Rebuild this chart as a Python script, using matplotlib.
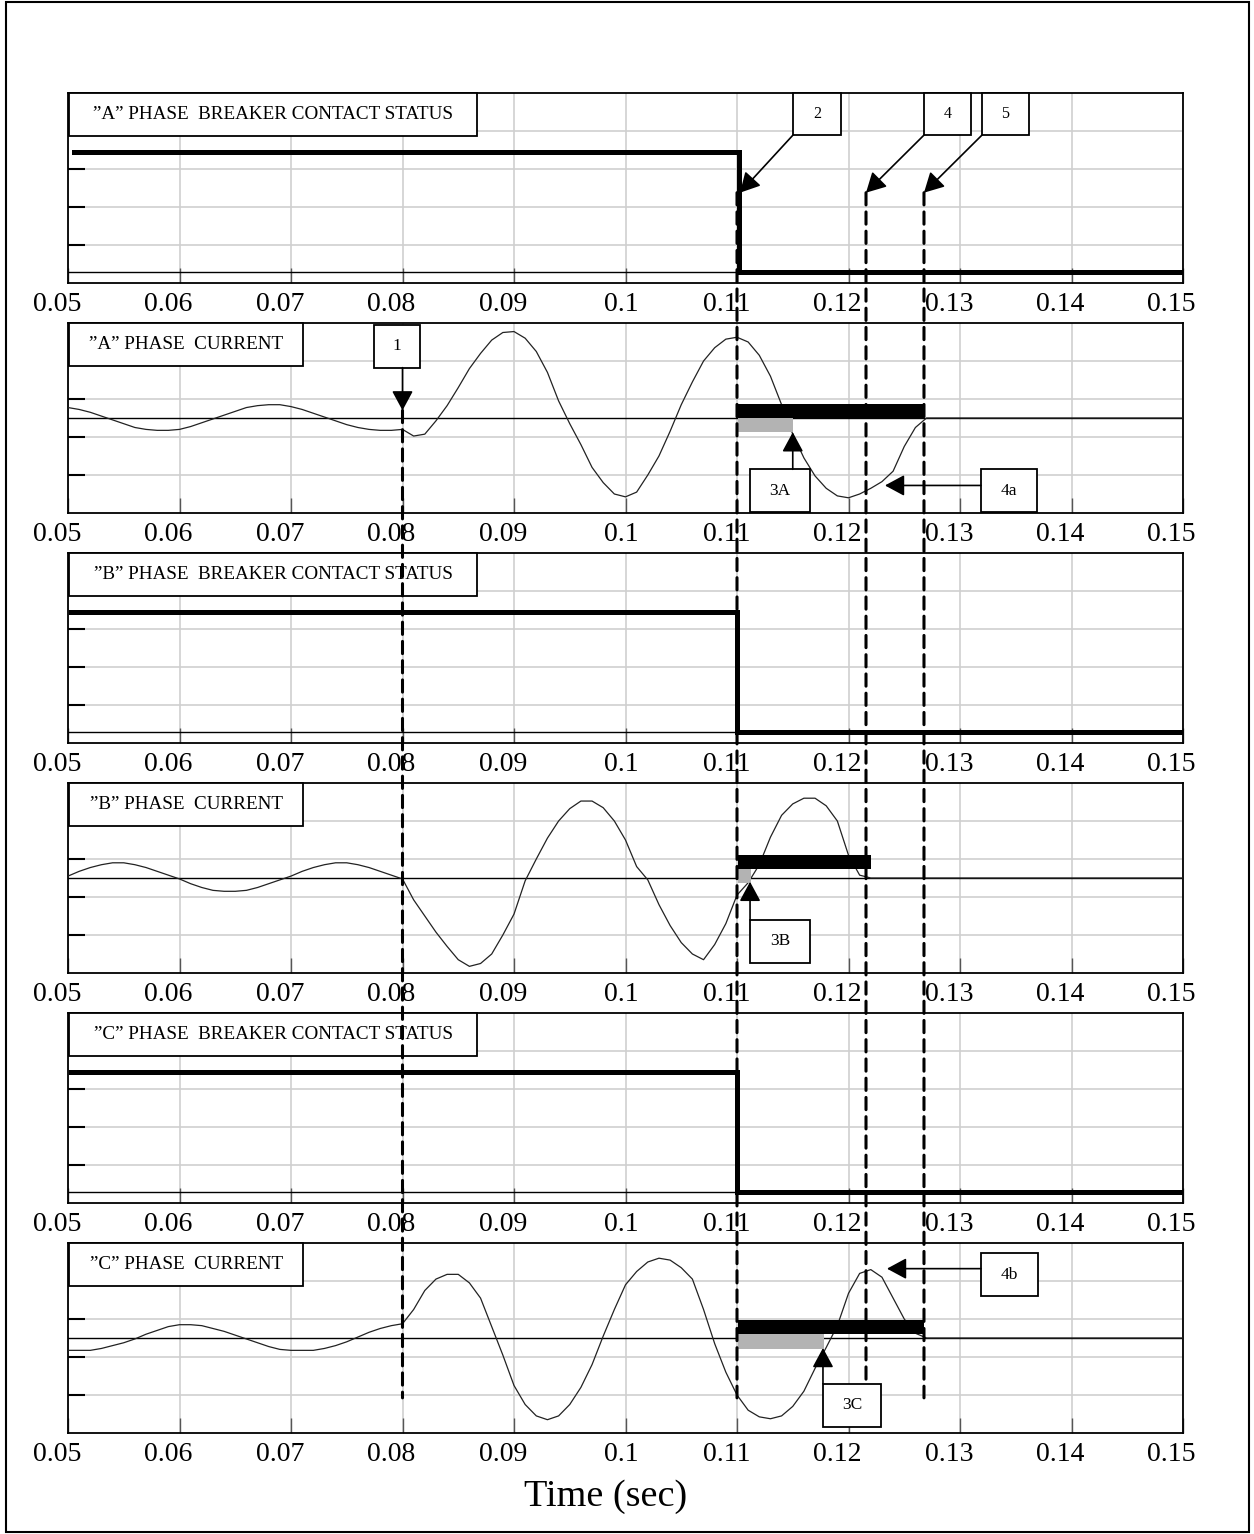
import numpy as np
import matplotlib.pyplot as plt
from matplotlib.patches import Rectangle, ConnectionPatch
from matplotlib.transforms import blended_transform_factory, ScaledTranslation

plt.rcParams['font.family'] = ['Liberation Serif', 'DejaVu Serif']

# recorder time base, 1 ms samples
t = np.round(np.arange(0.050, 0.1505, 0.001), 3)

# phase currents (per unit of panel half-height)
i_a = [0.11, 0.09, 0.06, 0.02, -0.02, -0.06, -0.10, -0.12, -0.13, -0.13,
       -0.12, -0.09, -0.05, -0.01, 0.03, 0.07, 0.11, 0.13, 0.14, 0.14,
       0.12, 0.09, 0.05, 0.01, -0.03, -0.07, -0.10, -0.12, -0.13, -0.13,
       -0.12, -0.19, -0.17, -0.03, 0.13, 0.32, 0.52, 0.68, 0.82, 0.90,
       0.91, 0.84, 0.70, 0.48, 0.18, -0.06, -0.28, -0.52, -0.68, -0.80,
       -0.83, -0.78, -0.60, -0.40, -0.14, 0.14, 0.38, 0.60, 0.74, 0.83,
       0.85, 0.80, 0.66, 0.44, 0.14, -0.17, -0.42, -0.61, -0.74, -0.82,
       -0.84, -0.80, -0.74, -0.67, -0.56, -0.30, -0.10, 0.0, 0.0, 0.0,
       0, 0, 0, 0, 0, 0, 0, 0, 0, 0,
       0, 0, 0, 0, 0, 0, 0, 0, 0, 0,
       0]
i_b = [0.02, 0.07, 0.11, 0.14, 0.16, 0.16, 0.14, 0.11, 0.07, 0.03,
       -0.01, -0.06, -0.10, -0.13, -0.14, -0.14, -0.13, -0.10, -0.06, -0.02,
       0.02, 0.07, 0.11, 0.14, 0.16, 0.16, 0.14, 0.11, 0.07, 0.03,
       -0.01, -0.23, -0.40, -0.57, -0.72, -0.86, -0.93, -0.90, -0.80, -0.60,
       -0.38, -0.03, 0.20, 0.42, 0.60, 0.73, 0.81, 0.81, 0.74, 0.60,
       0.40, 0.12, -0.02, -0.28, -0.50, -0.68, -0.80, -0.86, -0.70, -0.48,
       -0.18, -0.05, 0.14, 0.43, 0.66, 0.78, 0.84, 0.84, 0.76, 0.60,
       0.24, 0.03, 0.0, 0, 0, 0, 0, 0, 0, 0,
       0, 0, 0, 0, 0, 0, 0, 0, 0, 0,
       0, 0, 0, 0, 0, 0, 0, 0, 0, 0,
       0]
i_c = [-0.13, -0.13, -0.13, -0.11, -0.08, -0.05, -0.01, 0.04, 0.08, 0.12,
       0.14, 0.14, 0.13, 0.10, 0.07, 0.03, -0.01, -0.05, -0.09, -0.12,
       -0.13, -0.13, -0.13, -0.11, -0.08, -0.04, 0.01, 0.06, 0.10, 0.13,
       0.15, 0.30, 0.50, 0.62, 0.67, 0.67, 0.58, 0.42, 0.12, -0.18,
       -0.50, -0.70, -0.82, -0.86, -0.82, -0.70, -0.52, -0.28, 0.02, 0.30,
       0.56, 0.70, 0.80, 0.84, 0.82, 0.74, 0.62, 0.30, -0.06, -0.36,
       -0.60, -0.76, -0.83, -0.85, -0.82, -0.72, -0.56, -0.32, -0.10, 0.13,
       0.47, 0.68, 0.72, 0.64, 0.42, 0.20, 0.05, 0.0, 0, 0,
       0, 0, 0, 0, 0, 0, 0, 0, 0, 0,
       0, 0, 0, 0, 0, 0, 0, 0, 0, 0,
       0]

# breaker contact status (1 = closed, 0 = open)
status_t = {'A': [0.0505, 0.1102, 0.1500], 'B': [0.0503, 0.1100, 0.1497], 'C': [0.0503, 0.1100, 0.1497]}
status_v = [1, 0, 0]

# arcing intervals: black = contacts parted until current zero, grey = marked portion
arc_black = {'A': (0.1101, 0.1268), 'B': (0.1101, 0.1220), 'C': (0.1101, 0.1268)}
arc_grey = {'A': (0.1101, 0.1150), 'B': (0.1101, 0.1113), 'C': (0.1101, 0.1178)}
arc_black_y = {'A': (0.0, 0.15), 'B': (0.095, 0.24), 'C': (0.04, 0.19)}
arc_grey_y = {'A': (-0.15, 0.0), 'B': (-0.05, 0.095), 'C': (-0.12, 0.04)}

xticks = [0.05, 0.06, 0.07, 0.08, 0.09, 0.10, 0.11, 0.12, 0.13, 0.14, 0.15]
xticklabels = ['0.05', '0.06', '0.07', '0.08', '0.09', '0.1', '0.11', '0.12', '0.13', '0.14', '0.15']

titles = ['\u201dA\u201d PHASE  BREAKER CONTACT STATUS', '\u201dA\u201d PHASE  CURRENT',
          '\u201dB\u201d PHASE  BREAKER CONTACT STATUS', '\u201dB\u201d PHASE  CURRENT',
          '\u201dC\u201d PHASE  BREAKER CONTACT STATUS', '\u201dC\u201d PHASE  CURRENT']

W, H = 1254, 1534
fig = plt.figure(figsize=(W / 100, H / 100), dpi=100)
left, width, ph = 68 / W, (1183 - 68) / W, 190
axes = []
for k in range(6):
    top = 93 + 230 * k
    ax = fig.add_axes([left, 1 - (top + ph) / H, width, ph / H])
    axes.append(ax)

stat_lim = (-0.09, 1.49)
for k, ax in enumerate(axes):
    ax.set_xlim(0.05, 0.15)
    if k % 2 == 0:
        ax.set_ylim(*stat_lim)
        step = (stat_lim[1] - stat_lim[0]) / 5
        ax.set_yticks([stat_lim[0] + step * j for j in range(1, 5)])
    else:
        ax.set_ylim(-1, 1)
        ax.set_yticks([-0.6, -0.2, 0.2, 0.6])
    ax.set_xticks(xticks)
    ax.tick_params(axis='x', direction='in', length=11, width=1, color='#555555',
                   labelbottom=False, top=False)
    ax.tick_params(axis='y', direction='in', length=12, width=1.5, left=True,
                   right=False, labelleft=False)
    # tick labels sit slightly left of their ticks, as in the original printout
    lab_tr = blended_transform_factory(ax.transData, ax.transAxes) + \
        ScaledTranslation(13 / 100, -28 / 100, fig.dpi_scale_trans)
    for x, lab in zip(xticks, xticklabels):
        ax.text(x, 0, lab, transform=lab_tr, ha='right', va='baseline', fontsize=20,
                clip_on=False)
    ax.grid(True, color='#cfcfcf', lw=1.2)
    ax.set_axisbelow(True)
    for sp in ax.spines.values():
        sp.set_linewidth(1.3)
    ax.axhline(0, color='k', lw=1.0, zorder=2)

    # title box
    bw = (408 if k % 2 == 0 else 234) / 1115
    bh = 43 / ph
    ax.add_patch(Rectangle((0.001, 1 - bh), bw, bh, transform=ax.transAxes, fc='white',
                           ec='k', lw=1.3, zorder=5, clip_on=False))
    ax.text(0.001 + bw / 2, 1 - bh / 2, titles[k], transform=ax.transAxes, ha='center',
            va='center', fontsize=13.8, zorder=6)

phases = ['A', 'B', 'C']
cur = {'A': i_a, 'B': i_b, 'C': i_c}
for p, ph_name in enumerate(phases):
    ax_s = axes[2 * p]
    ax_s.plot(status_t[ph_name], status_v, drawstyle='steps-post', color='k', lw=3.6,
              solid_joinstyle='miter', zorder=3)
    ax_c = axes[2 * p + 1]
    ax_c.plot(t, cur[ph_name], color='#222222', lw=0.9, zorder=3)
    ax_c.fill_between(arc_black[ph_name], *arc_black_y[ph_name], color='k', lw=0, zorder=4)
    ax_c.fill_between(arc_grey[ph_name], *arc_grey_y[ph_name], color='#b3b3b3', lw=0, zorder=4)

# numbered callouts: (axis, label, box x0, x1, y0, y1, arrow start, arrow tip, font size)
callouts = [
    (0, '2', 0.11502, 0.11933, 1.140, 1.488, (0.11502, 1.140), (0.11027, 0.661), 11.5),
    (0, '4', 0.12677, 0.13099, 1.140, 1.488, (0.12677, 1.140), (0.12157, 0.661), 11.5),
    (0, '5', 0.13197, 0.13619, 1.140, 1.488, (0.13197, 1.140), (0.12677, 0.661), 11.5),
    (1, '1', 0.07744, 0.08157, 0.53, 0.98, (0.0800, 0.53), (0.0800, 0.08), 12.5),
    (1, '3A', 0.11117, 0.11655, -0.99, -0.54, (0.1150, -0.54), (0.1150, -0.15), 12.5),
    (1, '4a', 0.13188, 0.13691, -0.99, -0.54, (0.13188, -0.71), (0.12327, -0.71), 12.5),
    (3, '3B', 0.11117, 0.11655, -0.89, -0.44, (0.11117, -0.44), (0.11117, -0.04), 12.5),
    (5, '3C', 0.11771, 0.12291, -0.94, -0.48, (0.11771, -0.48), (0.11771, -0.105), 12.5),
    (5, '4b', 0.13188, 0.13700, 0.44, 0.89, (0.13188, 0.73), (0.12345, 0.73), 12.5),
]
for k, lab, x0, x1, y0, y1, start, tip, fs in callouts:
    ax = axes[k]
    ax.add_patch(Rectangle((x0, y0), x1 - x0, y1 - y0, fc='white', ec='k', lw=1.3, zorder=7,
                           clip_on=False))
    ax.text((x0 + x1) / 2, (y0 + y1) / 2, lab, ha='center', va='center', fontsize=fs, zorder=8)
    ax.annotate('', xy=tip, xytext=start, zorder=8,
                arrowprops=dict(arrowstyle='-|>,head_length=0.5,head_width=0.27',
                                mutation_scale=24, color='k', lw=1.2, shrinkA=0, shrinkB=0))

# dashed event markers running through the panels
markers = [(0.0800, 1, 0.08, -0.63), (0.1100, 0, 0.661, -0.63),
           (0.12157, 0, 0.661, -0.47), (0.12677, 0, 0.661, -0.63)]
for x, k0, ya, yb in markers:
    con = ConnectionPatch(xyA=(x, ya), coordsA='data', axesA=axes[k0],
                          xyB=(x, yb), coordsB='data', axesB=axes[5],
                          color='k', lw=2.2, linestyle=(0, (4, 2.3)), zorder=6)
    fig.add_artist(con)

fig.text(606 / W, 1 - 1497 / H, 'Time (sec)', ha='center', va='center', fontsize=27.5)

fig.add_artist(Rectangle((6 / W, 1 - 1532 / H), (1249 - 6) / W, 1530 / H,
                         transform=fig.transFigure, fill=False, ec='k', lw=1.5))

fig.savefig('out.png', dpi=100)
